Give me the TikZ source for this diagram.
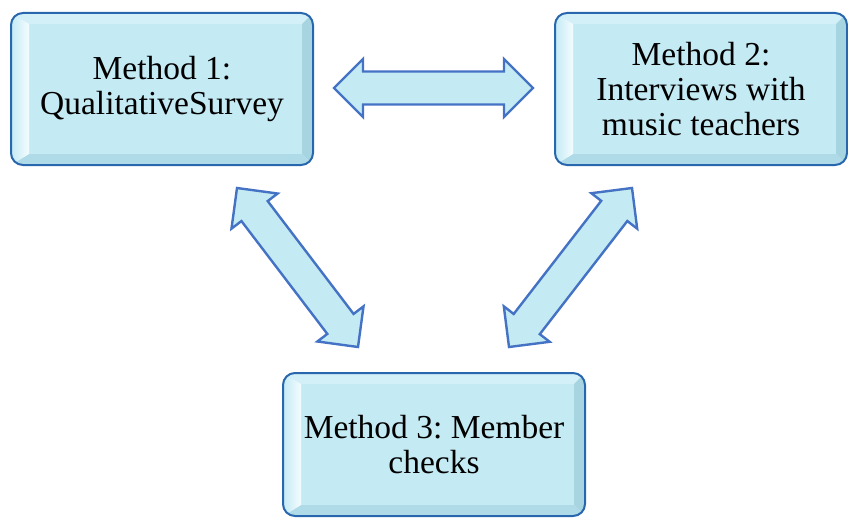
\documentclass[tikz,border=0pt]{standalone}
\usepackage{fontspec}
\setmainfont{Liberation Serif}
\usetikzlibrary{calc}
\frenchspacing

\definecolor{boxfill}{HTML}{C4EAF4}
\definecolor{boxline}{HTML}{2867AD}
\definecolor{arrowline}{HTML}{4472C4}
\definecolor{bevtop}{HTML}{D3F0F8}
\definecolor{bevright}{HTML}{A7D4E1}
\definecolor{bevbottom}{HTML}{AFDAE7}
\definecolor{bevleft}{HTML}{F4FCFE}

% bevel band widths
\newcommand\bevw{11pt}
\newcommand\bevl{18pt}
% block arrow geometry: head length, head half width, shaft half width
\newcommand\ahl{29pt}
\newcommand\ahw{29pt}
\newcommand\asw{16.5pt}

\tikzset{
  method/.style={draw=boxline, line width=2pt, fill=boxfill,
    rounded corners=12pt, align=center, inner sep=0pt,
    font=\fontsize{33.5}{35}\selectfont,
    path picture={
      \coordinate (o1) at (path picture bounding box.north west);
      \coordinate (o2) at (path picture bounding box.north east);
      \coordinate (o3) at (path picture bounding box.south east);
      \coordinate (o4) at (path picture bounding box.south west);
      \coordinate (i1) at ($(o1)+(\bevl,-\bevw)$);
      \coordinate (i2) at ($(o2)+(-\bevw,-\bevw)$);
      \coordinate (i3) at ($(o3)+(-\bevw,\bevw)$);
      \coordinate (i4) at ($(o4)+(\bevl,\bevw)$);
      \fill[bevtop, sharp corners] (o1)--(o2)--(i2)--(i1)--cycle;
      \fill[bevright, sharp corners] (o2)--(o3)--(i3)--(i2)--cycle;
      \fill[bevbottom, sharp corners] (o3)--(o4)--(i4)--(i3)--cycle;
      \shade[left color=boxfill, right color=bevleft, sharp corners]
        (o1)--(i1)--(i4)--(o4)--cycle;
    }},
  barrow/.style={draw=arrowline, line width=2.4pt, fill=boxfill,
    line join=miter}
}

% double-headed block arrow between two named points
\newcommand\blockarrow[2]{%
  \draw[barrow] (#1)
    -- ($(#1)!\ahl!(#2)!\ahw!90:(#2)$)
    -- ($(#1)!\ahl!(#2)!\asw!90:(#2)$)
    -- ($(#2)!\ahl!(#1)!\asw!-90:(#1)$)
    -- ($(#2)!\ahl!(#1)!\ahw!-90:(#1)$)
    -- (#2)
    -- ($(#2)!\ahl!(#1)!\ahw!90:(#1)$)
    -- ($(#2)!\ahl!(#1)!\asw!90:(#1)$)
    -- ($(#1)!\ahl!(#2)!\asw!-90:(#2)$)
    -- ($(#1)!\ahl!(#2)!\ahw!-90:(#2)$)
    -- cycle;}

\begin{document}
\begin{tikzpicture}[x=1pt, y=-1pt]
  \useasboundingbox (0,0) rectangle (848,519);

  \node[method, minimum width=302pt, minimum height=152pt] (m1) at (162,89)
    {Method 1:\\QualitativeSurvey};
  \node[method, minimum width=292pt, minimum height=152pt] (m2) at (701,89)
    {Method 2:\\Interviews with\\music teachers};
  \node[method, minimum width=302pt, minimum height=143pt] (m3) at (434,444.5)
    {Method 3: Member\\checks};

  % arrow tips
  \coordinate (a12) at (334,88);
  \coordinate (a21) at (533,88);
  \coordinate (a13) at (237,188);
  \coordinate (a31) at (358,347);
  \coordinate (a23) at (632,188);
  \coordinate (a32) at (509,347);

  \blockarrow{a12}{a21}
  \blockarrow{a13}{a31}
  \blockarrow{a23}{a32}
\end{tikzpicture}
\end{document}
